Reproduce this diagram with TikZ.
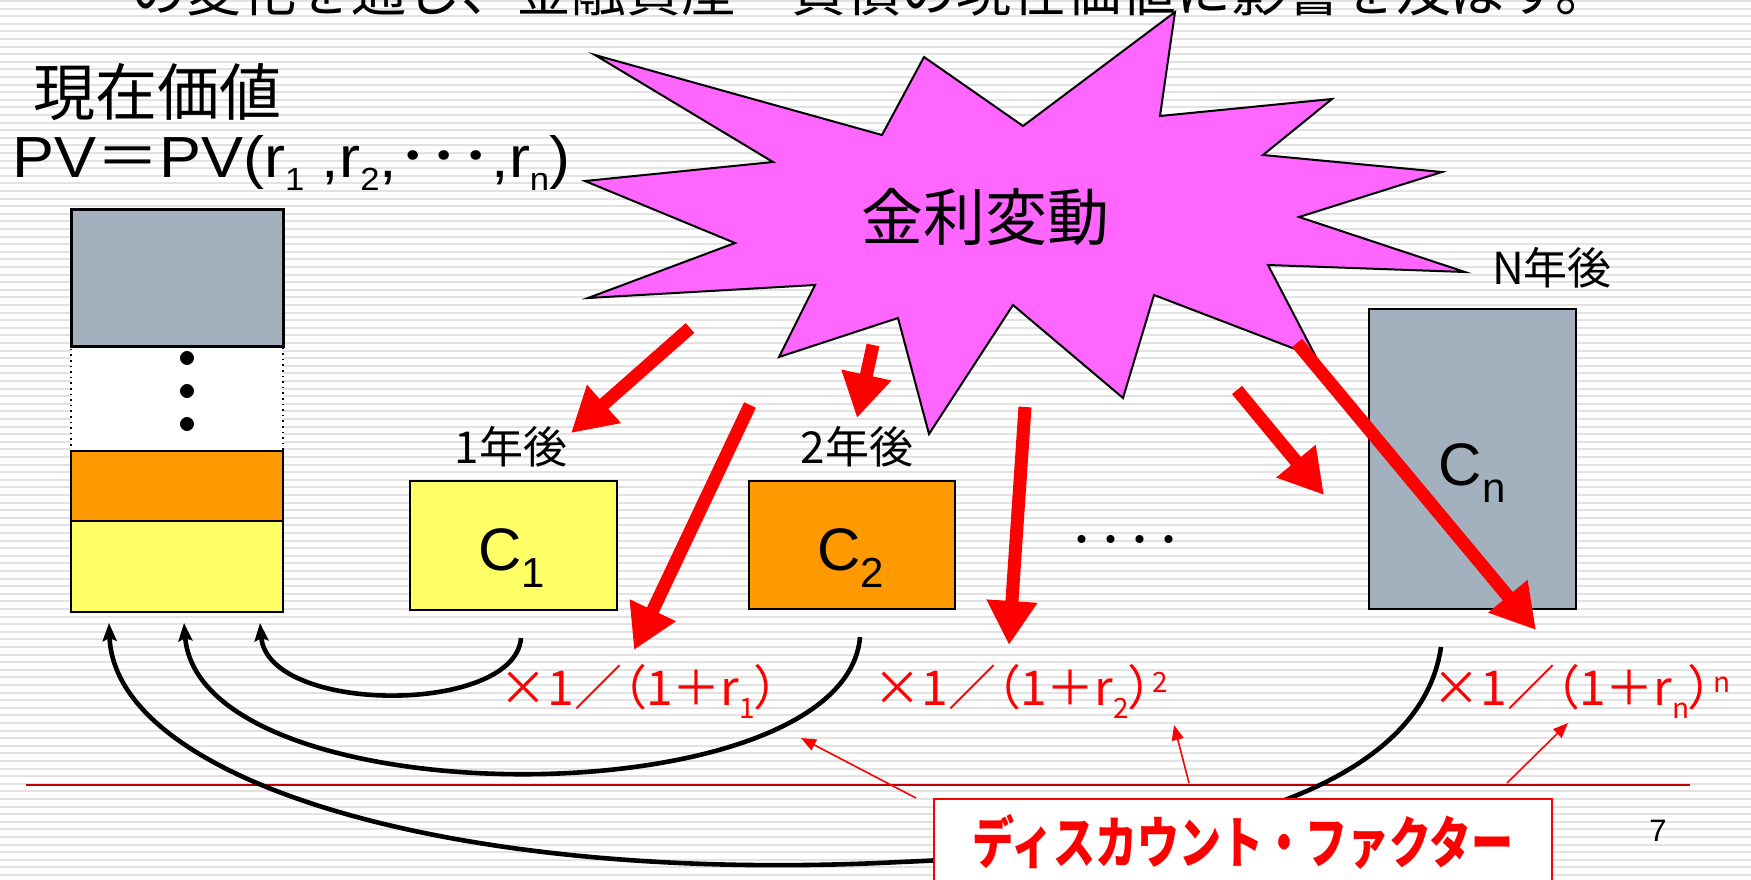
\documentclass[tikz,border=0pt]{standalone}
\usepackage{fontspec}
\usepackage{graphicx}
\setmainfont{Liberation Sans}
\newfontfamily\cjk{Noto Sans CJK JP}
\newfontfamily\cjkp{Noto Sans CJK JP}[RawFeature=+palt]
\usetikzlibrary{arrows.meta}
\definecolor{starpink}{HTML}{FF66FF}
\definecolor{boxgray}{HTML}{A3B1BF}
\definecolor{boxorange}{HTML}{FF9900}
\definecolor{boxyellow}{HTML}{FFFF66}
\definecolor{darkredline}{HTML}{C00000}
\definecolor{stripecol}{HTML}{E2E2E2}
\newcommand\psub[1]{\raisebox{-6.5pt}{\fontsize{16pt}{16pt}\selectfont #1}}
\newcommand\csub[1]{\raisebox{-8.5pt}{\fontsize{21pt}{21pt}\selectfont #1}}
\newcommand\fsub[1]{\raisebox{-6.5pt}{\fontsize{14pt}{14pt}\selectfont #1}}
\newcommand\fsup[1]{\raisebox{6.5pt}{\fontsize{14pt}{14pt}\selectfont #1}}
\tikzset{
  stripeline/.style={draw=stripecol, line width=1pt},
  colbox/.style={draw=black, line width=0.8pt, anchor=north west, inner sep=0pt, minimum width=106pt},
  cbox/.style={draw=black, line width=1pt, anchor=north west, inner sep=0pt},
  fatarrow/.style={draw=red, line width=6.5pt, -{Triangle[length=22pt,width=24pt]}},
  thinarrow/.style={draw=red, line width=0.8pt, -{Triangle[length=7.5pt,width=6pt]}},
  backcurve/.style={draw=black, line width=2.3pt, -{Stealth[length=9pt,width=7pt,inset=1.5pt]}},
  jlabel/.style={font=\cjk\fontsize{22pt}{22pt}\selectfont, inner sep=0pt},
  clabel/.style={anchor=base, inner sep=0pt, font=\fontsize{30pt}{30pt}\selectfont},
  formula/.style={anchor=base west, inner sep=0pt, text=red, font=\cjkp\fontsize{24pt}{24pt}\selectfont},
}
\begin{document}
\begin{tikzpicture}[x=0.5pt,y=-0.5pt]
\useasboundingbox (0,0) rectangle (1751,879);
\clip (0,0) rectangle (1751,879);
\fill[white] (0,0) rectangle (1751,879);
\foreach \k in {0,...,116} \draw[stripeline] (0,\k*7.6+1) -- (1751,\k*7.6+1);

% top (cut) title
\node[anchor=base west, inner sep=0pt, font=\cjk\fontsize{27.5pt}{27.5pt}\selectfont] (title) at (131,11) {の変化を通じ、金融資産・負債の現在価値に影響を及ぼす。};

% red rule
\coordinate (rl1) at (26,785);
\coordinate (rl2) at (1690,785);
\draw[darkredline, line width=0.75pt] (rl1) -- (rl2);

% present value header
\node[inner sep=0pt, font=\cjk\fontsize{31pt}{31pt}\selectfont] (pvtitle) at (157,92) {現在価値};
\node[anchor=base west, inner sep=0pt, font=\fontsize{29pt}{29pt}\selectfont] (pvformula) at (12,177)
  {\scalebox{1.085}[1]{PV{\cjkp ＝}PV(r\psub{1} ,r\psub{2},{\cjk ･･･},r\psub{n})}};

% left column
\node[colbox, fill=white, dotted, minimum height=52.5pt] (colwhite) at (70,345) {};
\node[colbox, fill=boxorange, minimum height=35pt] (colorange) at (70,450) {};
\node[colbox, fill=boxyellow, minimum height=45.5pt] (colyellow) at (70,520) {};
\node[colbox, fill=boxgray, line width=1.3pt, minimum height=68.5pt] (colgray) at (70,208) {};
\node[align=center, inner sep=0pt, font=\cjk\bfseries\fontsize{25pt}{16.5pt}\selectfont] (coldots) at (187,397) {・\\・\\・};

% star
\draw[fill=starpink, draw=black, line width=1pt, line join=miter]
 (1442,172) -- (1299,217) -- (1465,272) -- (1268,265) -- (1316,357) -- (1154,295) --
 (1123,398) -- (1013,305) -- (929,434) -- (898,318) -- (779,357) -- (815,285) --
 (588,298) -- (735,243) -- (585,181) -- (773,162) -- (595,55) -- (882,135) --
 (924,57) -- (1023,126) -- (1175,12) -- (1160,116) -- (1332,99) -- (1263,155) -- cycle;
\node[inner sep=0pt, font=\cjk\fontsize{31pt}{31pt}\selectfont] (kinri) at (985,217) {金利変動};

% cash flow boxes
\node[cbox, fill=boxyellow, minimum width=103.5pt, minimum height=64.5pt] (boxc1) at (409,480) {};
\node[cbox, fill=boxorange, minimum width=103pt, minimum height=64pt] (boxc2) at (748,480) {};
\node[cbox, fill=boxgray, minimum width=103.5pt, minimum height=150pt] (boxcn) at (1368,308) {};
\node[clabel] (lc1) at (512,570) {C\csub{1}};
\node[clabel] (lc2) at (851,570) {C\csub{2}};
\node[clabel] (lcn) at (1472,485) {C\csub{n}};
\node[jlabel] (y1) at (511,447) {1年後};
\node[jlabel] (y2) at (857,447) {2年後};
\node[jlabel] (yn) at (1552,268) {N年後};
\node[inner sep=0pt, font=\cjk\bfseries\fontsize{14.5pt}{14.5pt}\selectfont] (hdots) at (1125,543) {・・・・};

% discount curves
\coordinate (c1from) at (521,638);
\coordinate (c1to) at (260,623);
\coordinate (c2from) at (860,637);
\coordinate (c2to) at (184,623);
\coordinate (c3from) at (1441,647);
\coordinate (c3to) at (109,623);
\draw[backcurve] (c1from) .. controls (515,715) and (268,715) .. (c1to);
\draw[backcurve] (c2from) .. controls (845,820) and (200,820) .. (c2to);
\draw[backcurve] (c3from) .. controls (1420,790) and (1200,850) .. (900,862)
   .. controls (450,885) and (115,780) .. (c3to);

% discount factor box
\node[draw=red, fill=white, line width=1pt, minimum width=309pt, minimum height=43pt,
      anchor=north west, inner sep=0pt, text=red,
      font=\cjk\bfseries\fontsize{28pt}{28pt}\selectfont] (dfbox) at (933,798)
      {\scalebox{0.75}[1]{ディスカウント・ファクター}};

% formulas
\node[formula] (f1) at (499,705) {×1／（1＋r\fsub{1}）};
\node[formula] (f2) at (873,705) {×1／（1＋r\fsub{2}）\fsup{2}};
\node[formula] (f3) at (1432,705) {×1／（1＋r\fsub{n}）\fsup{n}};

% thin pointer arrows
\coordinate (t1s) at (916,798);  \coordinate (t1e) at (801,738);
\coordinate (t2s) at (1189,783); \coordinate (t2e) at (1174,725);
\coordinate (t3s) at (1507,783); \coordinate (t3e) at (1568,723);
\draw[thinarrow] (t1s) -- (t1e);
\draw[thinarrow] (t2s) -- (t2e);
\draw[thinarrow] (t3s) -- (t3e);

% fat red arrows
\coordinate (a1s) at (690,328);  \coordinate (a1e) at (571,433);
\coordinate (a2s) at (873,345);  \coordinate (a2e) at (857,418);
\coordinate (a3s) at (750,405);  \coordinate (a3e) at (634,650);
\coordinate (a4s) at (1025,407); \coordinate (a4e) at (1009,645);
\coordinate (a5s) at (1237,390); \coordinate (a5e) at (1324,495);
\coordinate (a6s) at (1297,343); \coordinate (a6e) at (1536,630);
\draw[fatarrow] (a1s) -- (a1e);
\draw[fatarrow] (a2s) -- (a2e);
\draw[fatarrow] (a3s) -- (a3e);
\draw[fatarrow] (a4s) -- (a4e);
\draw[fatarrow] (a5s) -- (a5e);
\draw[fatarrow] (a6s) -- (a6e);

\node[inner sep=0pt, font=\fontsize{15.5pt}{15.5pt}\selectfont] (pageno) at (1658,831) {7};
\end{tikzpicture}
\end{document}
